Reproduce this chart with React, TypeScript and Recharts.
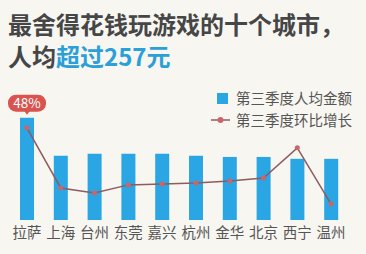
import React from 'react';
import { ComposedChart, Bar, Line, XAxis, YAxis } from 'recharts';

const cities = ['拉萨', '上海', '台州', '东莞', '嘉兴', '杭州', '金华', '北京', '西宁', '温州'];
const spend = [430, 270, 278, 278, 278, 270, 265, 265, 257, 257];
const growth = [48, 16.7, 14.1, 18.3, 18.8, 19.3, 20.3, 21.9, 37.6, 8.3];

const data = cities.map((city, i) => ({ city, spend: spend[i], growth: growth[i] }));

const FONT = '"Noto Sans CJK SC", "Noto Sans", sans-serif';
const BLUE = '#2aa6e4';
const LINE = '#8f5b5e';
const DOT = '#c8666b';

function Bubble(props: any) {
    const { x, y, width, index } = props;
    if (index !== 0) return null;
    const cx = x + width / 2;
    const top = y - 23;
    return (
        <g>
            <rect x={cx - 19} y={top} width={38} height={17} rx={8} fill="#d9534f" />
            <path d={`M${cx - 3},${top + 16} L${cx + 3},${top + 16} L${cx},${top + 20} Z`} fill="#d9534f" />
            <text x={cx} y={top + 13.5} textAnchor="middle" fill="#fff" fontSize={13.5} fontFamily={FONT}>
                {growth[0]}%
            </text>
        </g>
    );
}

// legend sits over the plot, drawn as plain html
function LegendBox() {
    return (
        <div style={{ position: 'absolute', left: 211, top: 87, fontFamily: FONT, fontSize: 14.5, color: '#555', lineHeight: '22px' }}>
            <div style={{ display: 'flex', alignItems: 'center' }}>
                <span style={{ display: 'inline-block', width: 11, height: 11, background: BLUE, marginLeft: 6, marginRight: 8 }} />
                第三季度人均金额
            </div>
            <div style={{ display: 'flex', alignItems: 'center' }}>
                <svg width={19} height={10} style={{ marginRight: 6 }}>
                    <line x1={0} y1={5} x2={19} y2={5} stroke={LINE} strokeWidth={1.5} />
                    <circle cx={9.5} cy={5} r={3} fill={DOT} />
                </svg>
                第三季度环比增长
            </div>
        </div>
    );
}

export default function App() {
    return (
        <div style={{ position: 'fixed', left: 0, top: 0, width: 366, height: 254, background: '#f7f6f1', fontFamily: FONT }}>
            <div style={{ position: 'absolute', left: 8, top: 8, fontSize: 24, fontWeight: 'bold', color: '#464646', lineHeight: '32px' }}>
                <div>最舍得花钱玩游戏的十个城市，</div>
                <div>人均<span style={{ color: '#2b9fd8' }}>超过257元</span></div>
            </div>
            <div style={{ position: 'absolute', left: 0, top: 0 }}>
                <ComposedChart width={366} height={254} data={data} margin={{ top: 101, right: 18, bottom: 0, left: 10 }}>
                    <XAxis
                        dataKey="city"
                        axisLine={false}
                        tickLine={false}
                        height={34}
                        interval={0}
                        tick={{ fontSize: 14.5, fill: '#555', fontFamily: FONT }}
                    />
                    <YAxis yAxisId="left" hide domain={[0, 500]} />
                    <YAxis yAxisId="right" hide orientation="right" domain={[0, 62]} />
                    <Bar yAxisId="left" dataKey="spend" fill={BLUE} barSize={14} isAnimationActive={false} label={<Bubble />} />
                    <Line
                        yAxisId="right"
                        dataKey="growth"
                        stroke={LINE}
                        strokeWidth={1.5}
                        dot={{ r: 2.5, fill: DOT, stroke: 'none' }}
                        activeDot={false}
                        isAnimationActive={false}
                    />
                </ComposedChart>
            </div>
            <LegendBox />
        </div>
    );
}
